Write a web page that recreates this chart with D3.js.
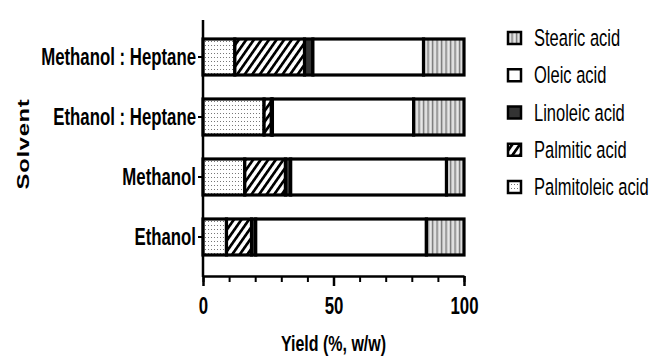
<!DOCTYPE html>
<html>
<head>
<meta charset="utf-8">
<script src="https://cdn.jsdelivr.net/npm/d3@7"></script>
<style>
  body { margin: 0; background: #fff; }
  text { font-family: "Liberation Sans", Arial, sans-serif; fill: #000; }
</style>
</head>
<body>
<div id="chart"></div>
<script>
// data
const solvents = ["Methanol : Heptane", "Ethanol : Heptane", "Methanol", "Ethanol"];
const acids = ["Palmitoleic acid", "Palmitic acid", "Linoleic acid", "Oleic acid", "Stearic acid"];
const palmitoleic = [12.2, 23.4, 16.0, 9.0];
const palmitic = [26.7, 2.8, 15.6, 9.6];
const linoleic = [3.2, 0.4, 2.0, 1.6];
const oleic = [42.4, 54.1, 59.7, 65.4];
const stearic = [15.5, 19.3, 6.7, 14.4];
const xTicks = [0, 50, 100];

const W = 649, H = 356;
const stretch = 1.4; // text in the reference is stretched vertically

const rows = solvents.map((s, i) => ({
  solvent: s,
  "Palmitoleic acid": palmitoleic[i],
  "Palmitic acid": palmitic[i],
  "Linoleic acid": linoleic[i],
  "Oleic acid": oleic[i],
  "Stearic acid": stearic[i]
}));

const series = d3.stack().keys(acids)(rows);

const x = d3.scaleLinear().domain([0, 100]).range([203, 464]);
const y = d3.scaleBand()
  .domain(solvents)
  .range([27, 267])
  .paddingInner(0.4)
  .paddingOuter(0.2);

const svg = d3.select("#chart").append("svg")
  .attr("width", W)
  .attr("height", H);

// fill patterns
const defs = svg.append("defs");

const dots = defs.append("pattern")
  .attr("id", "p-dots")
  .attr("patternUnits", "userSpaceOnUse")
  .attr("width", 3).attr("height", 4);
dots.append("rect").attr("width", 3).attr("height", 4).attr("fill", "#fff");
dots.append("rect").attr("x", 1).attr("y", 1).attr("width", 1).attr("height", 1).attr("fill", "#777");

const hatch = defs.append("pattern")
  .attr("id", "p-hatch")
  .attr("patternUnits", "userSpaceOnUse")
  .attr("width", 6.2).attr("height", 10)
  .attr("patternTransform", "rotate(35)");
hatch.append("rect").attr("width", 6.2).attr("height", 10).attr("fill", "#fff");
hatch.append("rect").attr("width", 2.7).attr("height", 10).attr("fill", "#000");

const vlines = defs.append("pattern")
  .attr("id", "p-vlines")
  .attr("patternUnits", "userSpaceOnUse")
  .attr("width", 4.5).attr("height", 4);
vlines.append("rect").attr("width", 4.5).attr("height", 4).attr("fill", "#cfcfcf");
vlines.append("rect").attr("x", 0).attr("width", 1.2).attr("height", 4).attr("fill", "#7c7c7c");
vlines.append("rect").attr("x", 2.4).attr("width", 1).attr("height", 4).attr("fill", "#f2f2f2");

const fills = {
  "Palmitoleic acid": "url(#p-dots)",
  "Palmitic acid": "url(#p-hatch)",
  "Linoleic acid": "#333",
  "Oleic acid": "#fff",
  "Stearic acid": "url(#p-vlines)"
};

// bars
const layer = svg.append("g")
  .selectAll("g")
  .data(series)
  .join("g")
  .attr("fill", d => fills[d.key]);

layer.selectAll("rect")
  .data(d => d)
  .join("rect")
  .attr("x", d => x(d[0]))
  .attr("y", d => y(d.data.solvent))
  .attr("width", d => x(d[1]) - x(d[0]))
  .attr("height", y.bandwidth())
  .attr("stroke", "#000")
  .attr("stroke-width", 3.2);

// y axis
const yAxis = svg.append("g")
  .attr("transform", `translate(${x(0)},0)`)
  .call(d3.axisLeft(y).tickSize(5).tickSizeOuter(0).tickPadding(2));
yAxis.select(".domain").remove();
yAxis.selectAll(".tick line").attr("stroke", "#000").attr("stroke-width", 2);
yAxis.selectAll(".tick text")
  .attr("font-size", 16.8)
  .attr("font-weight", "bold")
  .attr("transform", `scale(1,${stretch})`);

svg.append("line")
  .attr("x1", x(0)).attr("x2", x(0))
  .attr("y1", 20).attr("y2", 277)
  .attr("stroke", "#000").attr("stroke-width", 2.5);

// x axis
const xg = svg.append("g")
  .attr("transform", "translate(0,276)");

xg.append("g")
  .call(d3.axisBottom(x).tickValues(d3.range(0, 101, 10)).tickSize(6).tickFormat(""))
  .call(g => g.select(".domain").remove())
  .selectAll("line").attr("stroke-width", 2);

const xMajor = xg.append("g")
  .call(d3.axisBottom(x).tickValues(xTicks).tickSize(10).tickSizeOuter(0));
xMajor.select(".domain").attr("stroke-width", 2.5);
xMajor.selectAll(".tick line").attr("stroke-width", 2.5);
xMajor.selectAll(".tick text")
  .attr("y", 0)
  .attr("dy", "0.35em")
  .attr("font-size", 16.8)
  .attr("font-weight", "bold")
  .attr("transform", `translate(0,30) scale(1,${stretch})`);

svg.selectAll(".tick text").attr("fill", "#000");

// axis titles
svg.append("g")
  .attr("transform", `translate(${(x(0) + x(100)) / 2},343) scale(1,${stretch})`)
  .append("text")
  .attr("text-anchor", "middle")
  .attr("dy", "0.35em")
  .attr("font-size", 16)
  .attr("font-weight", "bold")
  .text("Yield (%, w/w)");

svg.append("g")
  .attr("transform", `translate(23,144) scale(1,${stretch}) rotate(-90)`)
  .append("text")
  .attr("text-anchor", "middle")
  .attr("dy", "0.35em")
  .attr("font-size", 17)
  .attr("font-weight", "bold")
  .attr("letter-spacing", 0.5)
  .text("Solvent");

// legend, top entry is the last stacked series
const legendY = d3.scalePoint()
  .domain(acids.slice().reverse())
  .range([38, 187]);

const entry = svg.append("g")
  .selectAll("g")
  .data(acids.slice().reverse())
  .join("g")
  .attr("transform", d => `translate(507,${legendY(d)})`);

entry.append("rect")
  .attr("x", 1)
  .attr("y", -6)
  .attr("width", 13)
  .attr("height", 12)
  .attr("fill", d => fills[d])
  .attr("stroke", "#000")
  .attr("stroke-width", 2.5);

entry.append("g")
  .attr("transform", `translate(27,0) scale(1,${stretch})`)
  .append("text")
  .attr("dy", "0.35em")
  .attr("font-size", 16.5)
  .text(d => d);
</script>
</body>
</html>
